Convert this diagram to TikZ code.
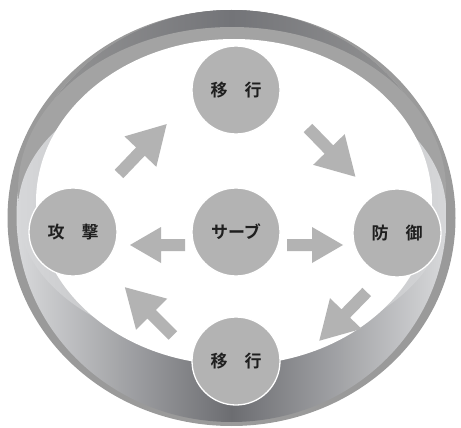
\documentclass[tikz,border=0pt]{standalone}
\usepackage{fontspec}
\newfontfamily\jpfont{Noto Sans CJK JP Bold}
\definecolor{disc}{HTML}{B3B3B3}
\definecolor{rimgray}{HTML}{9A9A9A}
\definecolor{faceedge}{HTML}{D8D9DB}
\definecolor{facemid}{HTML}{6C6D71}
\definecolor{topdark}{HTML}{737478}
\definecolor{walltop}{HTML}{A3A3A3}
\definecolor{walllight}{HTML}{D6D7D9}
\definecolor{wallmid}{HTML}{B0B1B3}

% block arrow: tail x, tail y, direction (deg), length, head length, head half width
\newcommand\blockarrow[6]{%
  \fill[disc, shift={(#1,#2)}, rotate=#3]
    (0,-6) -- ({#4-#5},-6) -- ({#4-#5},-#6) -- (#4,0)
    -- ({#4-#5},#6) -- ({#4-#5},6) -- (0,6) -- cycle;}

\begin{document}
\begin{tikzpicture}[x=1pt,y=-1pt,
  stage/.style={circle, fill=disc, draw=white, line width=1.3pt,
    minimum size=88pt, inner sep=0pt,
    font=\jpfont\fontsize{17}{17}\selectfont, text=black!88}]
\useasboundingbox (0,0) rectangle (461,428);

% ring: outer rim
\fill[rimgray] (231.5,218) ellipse [x radius=224, y radius=208];
% ring: outer face (middle color goes last so it is not reset)
\shade[left color=faceedge, right color=faceedge, middle color=facemid]
  (231.5,216) ellipse [x radius=215, y radius=206];
% ring: upper edge of the face
\begin{scope}
  \clip (0,0) rectangle (461,190);
  \shade[left color=rimgray, right color=rimgray, middle color=topdark]
    (231.5,216) ellipse [x radius=215, y radius=206];
\end{scope}
% ring: inner wall, far side
\fill[walltop] (232,190) ellipse [x radius=214, y radius=163];
% ring: inner wall, lit sides
\shade[left color=walllight, right color=walllight, middle color=wallmid]
  (232,210) ellipse [x radius=214, y radius=140];
% ring: opening
\fill[white] (234,202) ellipse [x radius=198, y radius=163];

% stages
\node[stage] (top) at (236,90) {移　行};
\node[stage] (serve) at (236,232) {サーブ};
\node[stage] (attack) at (73,232) {攻　撃};
\node[stage] (defend) at (397,233) {防　御};
\node[stage] (bottom) at (236,361) {移　行};

% arrows from the serve
\blockarrow{287}{245}{0}{56}{31}{18}
\blockarrow{185}{245}{180}{55}{31}{18}
% arrows round the cycle
\blockarrow{119}{174}{46.3}{69}{38}{22}
\blockarrow{308}{128}{-45.8}{68}{38}{22}
\blockarrow{366.7}{292}{-134.2}{68}{38}{22}
\blockarrow{172.8}{335.5}{134.8}{68}{38}{22}
\end{tikzpicture}
\end{document}
